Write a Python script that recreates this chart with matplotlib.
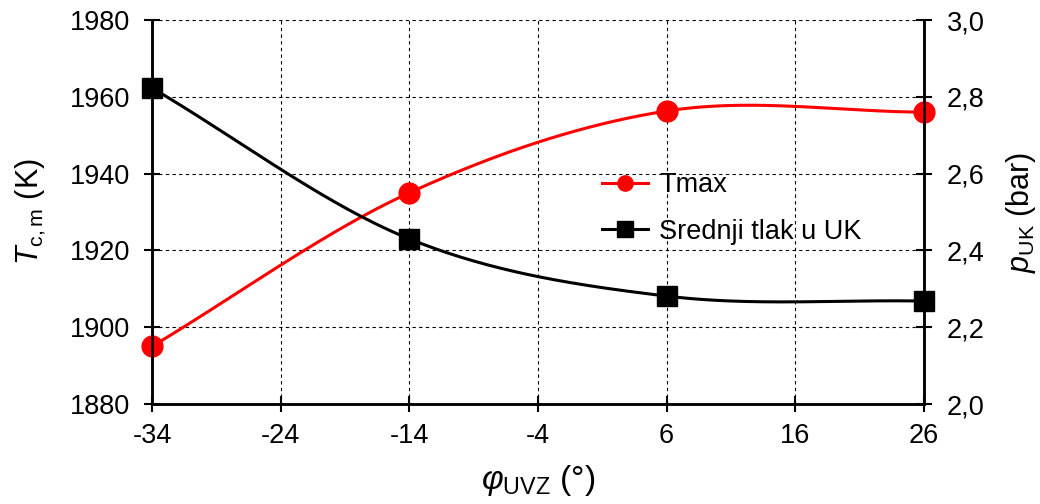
import numpy as np
import matplotlib
matplotlib.use("Agg")
import matplotlib.pyplot as plt
from matplotlib.lines import Line2D

plt.rcParams['font.family'] = ['Liberation Sans', 'DejaVu Sans']
plt.rcParams['mathtext.fontset'] = 'custom'
plt.rcParams['mathtext.rm'] = 'Liberation Sans'
plt.rcParams['mathtext.it'] = 'Liberation Sans:italic'

phi = [-34, -14, 6, 26]
tmax = [1895, 1935, 1956.3, 1956]
p_uk = [2.823, 2.43, 2.281, 2.268]
x_ticks = [-34, -24, -14, -4, 6, 16, 26]
left_ticks = [1880, 1900, 1920, 1940, 1960, 1980]
right_ticks = [2.0, 2.2, 2.4, 2.6, 2.8, 3.0]
right_labels = ['2,0', '2,2', '2,4', '2,6', '2,8', '3,0']


def smooth(x, y, n=60):
    # Catmull-Rom style smoothing (like Excel's smoothed line)
    x = np.asarray(x, float); y = np.asarray(y, float)
    px = np.concatenate([[2*x[0]-x[1]], x, [2*x[-1]-x[-2]]])
    py = np.concatenate([[2*y[0]-y[1]], y, [2*y[-1]-y[-2]]])
    xs, ys = [], []
    for i in range(1, len(px)-2):
        t = np.linspace(0, 1, n)
        p0x, p1x, p2x, p3x = px[i-1:i+3]
        p0y, p1y, p2y, p3y = py[i-1:i+3]
        b1x = p1x + (p2x - p0x)/6; b1y = p1y + (p2y - p0y)/6
        b2x = p2x - (p3x - p1x)/6; b2y = p2y - (p3y - p1y)/6
        bx = (1-t)**3*p1x + 3*(1-t)**2*t*b1x + 3*(1-t)*t**2*b2x + t**3*p2x
        by = (1-t)**3*p1y + 3*(1-t)**2*t*b1y + 3*(1-t)*t**2*b2y + t**3*p2y
        xs.append(bx); ys.append(by)
    return np.concatenate(xs), np.concatenate(ys)


fig = plt.figure(figsize=(10.4, 5.04), dpi=100)
ax = fig.add_axes([152/1040, 1-404/504, (924-152)/1040, 384/504])
ax2 = ax.twinx()

ax.set_xlim(-34, 26)
ax.set_ylim(1880, 1980)
ax2.set_ylim(2.0, 3.0)

ax.set_xticks(x_ticks)
ax.set_xticklabels([str(v) for v in x_ticks])
ax.set_yticks(left_ticks)
ax2.set_yticks(right_ticks)
ax2.set_yticklabels(right_labels)

ax.grid(True, color='black', linestyle=(0, (3, 3)), linewidth=0.8)
ax.set_axisbelow(True)

sx, sy = smooth(phi, tmax)
ax.plot(sx, sy, color='#ff0000', lw=2.2, zorder=3)
ax.plot(phi, tmax, 'o', color='#ff0000', ms=15, zorder=4, clip_on=False)

sx2, sy2 = smooth(phi, p_uk)
ax2.plot(sx2, sy2, color='black', lw=2.2, zorder=3)
ax2.plot(phi, p_uk, 's', color='black', ms=15, zorder=4, clip_on=False)

for a in (ax, ax2):
    for s in a.spines.values():
        s.set_linewidth(1.8)
    a.tick_params(direction='inout', length=11, width=1.5, labelsize=19.5)
ax.spines['top'].set_visible(False)
ax2.spines['top'].set_visible(False)
ax.tick_params(axis='x', pad=8)
ax.tick_params(axis='y', pad=10)
ax2.tick_params(axis='y', pad=11)

ax.set_ylabel(r'$\mathit{T}_{\mathrm{c,m}}$ (K)', fontsize=22, labelpad=16)
ax2.set_ylabel(r'$\mathit{p}_{\mathrm{UK}}$ (bar)', fontsize=22, labelpad=14)
ax.set_xlabel(r'$\mathit{φ}_{\mathrm{UVZ}}$ (°)', fontsize=24, labelpad=10)

handles = [Line2D([], [], color='#ff0000', lw=2.2, marker='o', ms=11),
           Line2D([], [], color='black', lw=2.2, marker='s', ms=11)]
leg = ax.legend(handles, ['Tmax', 'Srednji tlak u UK'], loc='upper left',
                bbox_to_anchor=((578-152)/772, (404-148)/384), frameon=False,
                fontsize=19.5, handlelength=1.7, labelspacing=0.75, handletextpad=0.4)

fig.savefig('out.png', dpi=100)
